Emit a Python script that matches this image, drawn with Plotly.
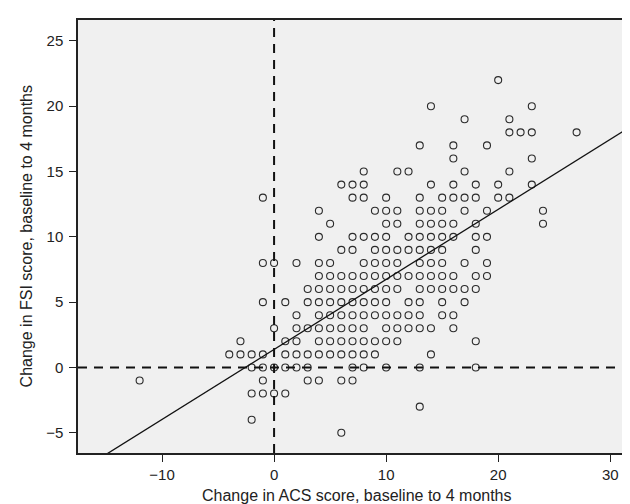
import plotly.graph_objects as go

# FSI change levels (y) and the ACS change values (x) observed at each level
fsi_levels = [22, 20, 19, 18, 17, 16, 15, 14, 13, 12, 11, 10, 9, 8, 7, 6, 5, 4, 3, 2, 1, 0, -1, -2, -3, -4, -5]
acs_at_level = [
    [20],
    [14, 23],
    [17, 21],
    [21, 22, 23, 27],
    [13, 16, 19],
    [16, 23],
    [8, 11, 12, 17, 21],
    [6, 7, 8, 14, 16, 18, 20, 23],
    [-1, 7, 8, 10, 13, 15, 16, 17, 18, 20, 21],
    [4, 9, 10, 11, 13, 14, 15, 17, 19, 24],
    [5, 10, 11, 13, 14, 15, 16, 18, 24],
    [4, 7, 8, 9, 10, 12, 13, 14, 15, 16, 18, 19],
    [6, 7, 9, 10, 11, 12, 13, 14, 15, 18],
    [-1, 0, 2, 4, 5, 8, 9, 10, 11, 13, 14, 15, 17, 19],
    [4, 5, 6, 7, 8, 9, 10, 11, 12, 13, 14, 15, 16, 18, 19],
    [3, 4, 5, 6, 7, 8, 9, 10, 11, 13, 14, 15, 16, 17, 18],
    [-1, 1, 3, 4, 5, 6, 7, 8, 9, 10, 12, 13, 15, 17],
    [2, 4, 5, 6, 7, 8, 9, 10, 11, 12, 13, 15, 16],
    [0, 2, 3, 4, 5, 6, 7, 8, 10, 11, 12, 13, 14, 16],
    [-3, 1, 2, 4, 5, 6, 7, 8, 9, 10, 11, 18],
    [-4, -3, -2, -1, 1, 2, 3, 4, 5, 6, 7, 8, 9, 14],
    [-2, -1, 0, 1, 2, 3, 7, 8, 10, 13, 18],
    [-12, -1, 3, 4, 6, 7],
    [-2, -1, 0, 1],
    [13],
    [-2],
    [6],
]

# fitted regression line
line_intercept = 1.38
line_slope = 0.536

x_range = [-17.5, 32.3]
y_range = [-6.55, 26.6]
x_ticks = [-10, 0, 10, 20, 30]
y_ticks = [-5, 0, 5, 10, 15, 20, 25]

x_title = "Change in ACS score, baseline to 4 months"
y_title = "Change in FSI score, baseline to 4 months"

acs_change = []
fsi_change = []
for lvl, xs in zip(fsi_levels, acs_at_level):
    for xv in xs:
        acs_change.append(xv)
        fsi_change.append(lvl)

font_family = "Liberation Sans, Arial, sans-serif"

fig = go.Figure()

fig.add_trace(go.Scatter(
    x=acs_change, y=fsi_change, mode="markers",
    marker=dict(symbol="circle-open", size=7, color="#2a2a2a", line=dict(width=1.1, color="#2a2a2a")),
    showlegend=False, hoverinfo="x+y",
))

lx = [x_range[0] - 1, x_range[1] + 1]
ly = [line_intercept + line_slope * v for v in lx]
fig.add_trace(go.Scatter(
    x=lx, y=ly, mode="lines", line=dict(color="#111111", width=1.3),
    showlegend=False, hoverinfo="skip",
))

fig.add_shape(type="line", xref="x", yref="y domain", x0=0, x1=0, y0=0, y1=1,
              line=dict(color="#111111", width=2, dash="9px,7px"), layer="above")
fig.add_shape(type="line", xref="x domain", yref="y", x0=0, x1=1, y0=0, y1=0,
              line=dict(color="#111111", width=2, dash="9px,7px"), layer="above")

fig.add_annotation(text=x_title, xref="paper", yref="paper", x=0.5, y=-0.097,
                   xanchor="center", yanchor="middle", showarrow=False,
                   font=dict(size=16, family=font_family, color="#222222"))
fig.add_annotation(text=y_title, xref="paper", yref="paper", x=-0.0916, y=0.5,
                   xanchor="center", yanchor="middle", showarrow=False, textangle=-90,
                   font=dict(size=16, family=font_family, color="#222222"))

fig.update_layout(
    width=630, height=504,
    margin=dict(l=70, r=0, t=12, b=59),
    paper_bgcolor="white",
    plot_bgcolor="#f0f0f0",
    font=dict(family=font_family, size=15, color="#222222"),
    xaxis=dict(
        range=x_range, tickvals=x_ticks, showgrid=False, zeroline=False,
        showline=True, linecolor="#222222", linewidth=1.5, mirror=True,
        ticks="outside", ticklen=7, tickcolor="#222222", tickwidth=1.2,
        tickfont=dict(size=15),
    ),
    yaxis=dict(
        range=y_range, tickvals=y_ticks, showgrid=False, zeroline=False,
        showline=True, linecolor="#222222", linewidth=1.5, mirror=True,
        ticks="outside", ticklen=7, tickcolor="#222222", tickwidth=1.2,
        tickfont=dict(size=15), ticklabelstandoff=3,
    ),
)

fig.write_html("out.html")
